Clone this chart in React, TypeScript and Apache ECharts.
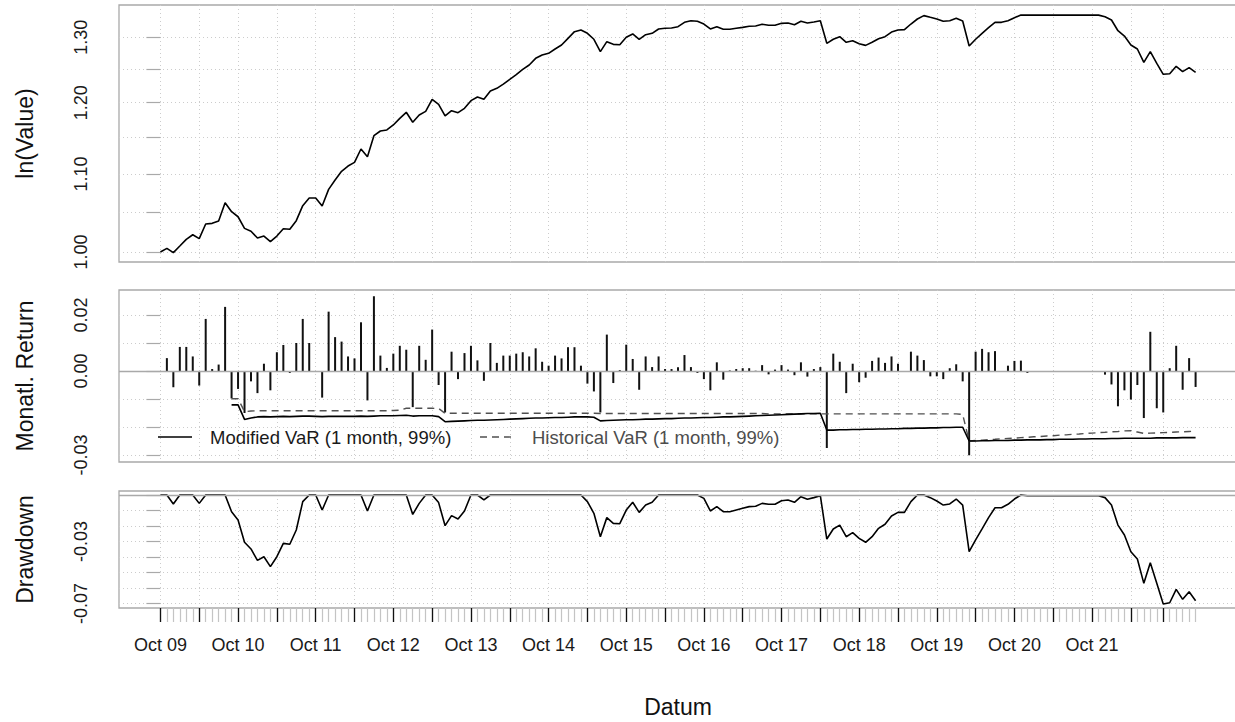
import React, { useEffect, useRef } from "react";
import * as echarts from "echarts";

// ---------- data ----------
const monthLabels = ["Oct 09", "Oct 10", "Oct 11", "Oct 12", "Oct 13", "Oct 14", "Oct 15", "Oct 16", "Oct 17", "Oct 18", "Oct 19", "Oct 20", "Oct 21"];
const labelIdx = [0, 12, 24, 36, 48, 60, 72, 84, 96, 108, 120, 132, 144];
const majorTickIdx = [0, 6, 12, 18, 24, 30, 36, 42, 48, 54, 60, 66, 72, 78, 84, 90, 96, 102, 108, 114, 120, 126, 132, 138, 144, 150, 155];

const valueTicks = [1.0, 1.05, 1.1, 1.15, 1.2, 1.25, 1.3];
const valueLabels = [1.0, 1.1, 1.2, 1.3];
const returnTicks = [-0.03, -0.02, -0.01, 0, 0.01, 0.02];
const returnLabels = [-0.03, 0, 0.02];
const ddTicks = [-0.07, -0.06, -0.05, -0.04, -0.03, -0.02, -0.01, 0];
const ddLabels = [-0.07, -0.03];

const cumValue = [
  1.0, 1.0045, 0.9992, 1.0073, 1.0156, 1.0213, 1.0164, 1.0348, 1.0356, 1.0386,
  1.062, 1.0504, 1.044, 1.0293, 1.0256, 1.0172, 1.0197, 1.0127, 1.0197, 1.0289,
  1.0281, 1.039, 1.0582, 1.0681, 1.0681, 1.0578, 1.0795, 1.0919, 1.1035, 1.1107,
  1.1157, 1.134, 1.1234, 1.1526, 1.1592, 1.1607, 1.1678, 1.1773, 1.186, 1.1716,
  1.1821, 1.1874, 1.2049, 1.1976, 1.1807, 1.1884, 1.1854, 1.1918, 1.203, 1.2084,
  1.2049, 1.2173, 1.2212, 1.2276, 1.2347, 1.2417, 1.2498, 1.2565, 1.2668, 1.2719,
  1.2746, 1.2813, 1.2875, 1.2981, 1.3087, 1.3114, 1.3061, 1.2966, 1.2771, 1.2928,
  1.2886, 1.288, 1.2997, 1.305, 1.2966, 1.3039, 1.3061, 1.313, 1.3141, 1.3146,
  1.3167, 1.3237, 1.3263, 1.3254, 1.321, 1.313, 1.3167, 1.3125, 1.3125, 1.3141,
  1.3156, 1.3173, 1.3177, 1.3205, 1.3189, 1.3189, 1.3221, 1.3226, 1.3199, 1.3254,
  1.3226, 1.3242, 1.3263, 1.2902, 1.2966, 1.3007, 1.2918, 1.2943, 1.2896, 1.287,
  1.2918, 1.2975, 1.3007, 1.3081, 1.3114, 1.312, 1.321, 1.3291, 1.3346, 1.3318,
  1.3291, 1.3254, 1.3263, 1.3302, 1.3259, 1.286, 1.2966, 1.3061, 1.3151, 1.3237,
  1.3237, 1.3263, 1.3312, 1.3356, 1.3354, 1.3354, 1.3354, 1.3354, 1.3354, 1.3354,
  1.3354, 1.3354, 1.3354, 1.3354, 1.3354, 1.3354, 1.3328, 1.3275, 1.3102, 1.3017,
  1.2875, 1.2813, 1.2606, 1.2771, 1.259, 1.2423, 1.2432, 1.2545, 1.2463, 1.2524,
  1.2453,
];

const monthlyReturn = [
  null, 0.0046, -0.0058, 0.0086, 0.0086, 0.0052, -0.0052, 0.0186, 0.0007, 0.0023,
  0.0229, -0.0098, -0.0064, -0.015, -0.0037, -0.0079, 0.0026, -0.0069, 0.0067, 0.0093,
  -0.0007, 0.01, 0.0186, 0.01, -0.0003, -0.0095, 0.0212, 0.0121, 0.0105, 0.0052,
  0.0045, 0.0174, -0.0105, 0.0267, 0.0055, 0.0011, 0.0062, 0.009, 0.0076, -0.0129,
  0.009, 0.004, 0.0148, -0.005, -0.0148, 0.0069, -0.0029, 0.0064, 0.009, 0.0038,
  -0.0035, 0.01, 0.0029, 0.0055, 0.0055, 0.0062, 0.0067, 0.0052, 0.0081, 0.0033,
  0.0019, 0.0055, 0.0045, 0.0085, 0.0085, 0.0019, -0.0045, -0.0073, -0.0148, 0.013,
  -0.0043, 0.0003, 0.0094, 0.0043, -0.0067, 0.0052, 0.0014, 0.0052, 0.0007, 0.0007,
  0.0013, 0.0057, 0.0014, -0.0007, -0.0029, -0.0069, 0.0031, -0.0031, 0.0002, 0.0007,
  0.001, 0.001, 0.0001, 0.0021, -0.0012, 0.0005, 0.0021, 0.0005, -0.0015, 0.0031,
  -0.002, 0.0007, 0.0014, -0.0275, 0.0062, 0.0033, -0.0079, 0.0026, -0.004, -0.0024,
  0.0036, 0.0048, 0.0029, 0.0052, 0.0026, 0.0, 0.0069, 0.0055, 0.0039, -0.0019,
  -0.0019, -0.0029, 0.001, 0.0024, -0.0037, -0.0301, 0.0069, 0.0079, 0.0067, 0.0071,
  0.0, 0.0019, 0.0036, 0.0037, -0.0007, 0, 0, 0, 0, 0,
  0, 0, 0, 0, 0, 0, -0.0013, -0.0048, -0.0126, -0.0069,
  -0.0102, -0.005, -0.0168, 0.014, -0.0133, -0.0148, 0.001, 0.009, -0.0067, 0.0046,
  -0.0057,
];

const drawdown = [
  0, 0, -0.0058, 0, 0, 0, -0.0054, 0, 0, 0,
  0, -0.0108, -0.0161, -0.0305, -0.0348, -0.0422, -0.0398, -0.0462, -0.0398, -0.0312,
  -0.0318, -0.0226, -0.0043, 0, 0, -0.0097, 0, 0, 0, 0,
  0, 0, -0.0103, 0, 0, 0, 0, 0, 0, -0.0125,
  -0.0054, 0, 0, -0.0049, -0.0198, -0.0133, -0.0155, -0.0103, 0, 0,
  -0.0032, 0, 0, 0, 0, 0, 0, 0, 0, 0,
  0, 0, 0, 0, 0, 0, -0.0043, -0.0118, -0.0269, -0.0146,
  -0.0183, -0.0185, -0.0097, -0.0047, -0.0112, -0.0065, -0.0047, 0, 0, 0,
  0, 0, 0, 0, -0.0022, -0.0103, -0.0075, -0.0108, -0.0108, -0.0097,
  -0.0086, -0.0075, -0.0073, -0.0054, -0.006, -0.006, -0.0037, -0.0032, -0.0047, -0.0011,
  -0.0028, -0.0017, -0.0004, -0.0284, -0.0219, -0.0194, -0.0269, -0.0243, -0.028, -0.0305,
  -0.0269, -0.0215, -0.0189, -0.0135, -0.0112, -0.0112, -0.0043, 0, 0, -0.0017,
  -0.0039, -0.0065, -0.0058, -0.0026, -0.0065, -0.0366, -0.029, -0.0219, -0.0146, -0.0082,
  -0.0082, -0.006, -0.0026, 0, -0.0005, -0.0005, -0.0005, -0.0005, -0.0005, -0.0005,
  -0.0005, -0.0005, -0.0005, -0.0005, -0.0005, -0.0005, -0.0017, -0.0065, -0.0194, -0.0258,
  -0.0366, -0.0413, -0.057, -0.0437, -0.057, -0.0703, -0.0695, -0.0609, -0.0673, -0.0624,
  -0.0682,
];

const modifiedVaR = [
  null, null, null, null, null, null, null, null, null, null,
  null, -0.0121, -0.0121, -0.0173, -0.0168, -0.0164, -0.0163, -0.0164, -0.0163, -0.0162,
  -0.0163, -0.0162, -0.0161, -0.0161, -0.0162, -0.0163, -0.0162, -0.0162, -0.0162, -0.0162,
  -0.0162, -0.0161, -0.0162, -0.0161, -0.016, -0.016, -0.016, -0.0159, -0.0158, -0.0161,
  -0.016, -0.016, -0.016, -0.0163, -0.0181, -0.018, -0.0179, -0.0178, -0.0177, -0.0176,
  -0.0176, -0.0175, -0.0174, -0.0173, -0.0172, -0.0171, -0.017, -0.0169, -0.0168, -0.0168,
  -0.0167, -0.0166, -0.0166, -0.0165, -0.0164, -0.0164, -0.0164, -0.0165, -0.0178, -0.0177,
  -0.0176, -0.0175, -0.0174, -0.0174, -0.0173, -0.0172, -0.0172, -0.0171, -0.017, -0.017,
  -0.0169, -0.0168, -0.0168, -0.0167, -0.0166, -0.0166, -0.0165, -0.0164, -0.0164, -0.0163,
  -0.0162, -0.0161, -0.016, -0.0159, -0.0158, -0.0157, -0.0156, -0.0155, -0.0154, -0.0153,
  -0.0152, -0.0152, -0.0151, -0.0211, -0.0211, -0.021, -0.021, -0.0209, -0.0209, -0.0208,
  -0.0208, -0.0207, -0.0207, -0.0206, -0.0206, -0.0205, -0.0205, -0.0204, -0.0204, -0.0203,
  -0.0203, -0.0202, -0.0202, -0.0201, -0.0201, -0.025, -0.025, -0.0249, -0.0249, -0.0248,
  -0.0248, -0.0248, -0.0247, -0.0247, -0.0246, -0.0246, -0.0246, -0.0245, -0.0245, -0.0244,
  -0.0244, -0.0244, -0.0243, -0.0243, -0.0242, -0.0242, -0.0242, -0.0241, -0.0241, -0.024,
  -0.024, -0.024, -0.024, -0.024, -0.0239, -0.0239, -0.0239, -0.0239, -0.0238, -0.0238,
  -0.0238,
];

const historicalVaR = [
  null, null, null, null, null, null, null, null, null, null,
  null, -0.0099, -0.0099, -0.0145, -0.0143, -0.0142, -0.0142, -0.0142, -0.0142, -0.0142,
  -0.0142, -0.0142, -0.0142, -0.0142, -0.0142, -0.0142, -0.0142, -0.0142, -0.0142, -0.0142,
  -0.0142, -0.0142, -0.0142, -0.0142, -0.0142, -0.0142, -0.0141, -0.014, -0.0133, -0.0133,
  -0.0133, -0.0133, -0.0133, -0.0134, -0.0151, -0.0151, -0.0151, -0.0151, -0.0151, -0.0151,
  -0.0151, -0.0151, -0.0151, -0.0151, -0.0151, -0.0151, -0.0151, -0.0151, -0.0151, -0.0151,
  -0.0151, -0.0151, -0.0151, -0.0151, -0.0151, -0.0151, -0.0151, -0.0151, -0.0152, -0.0152,
  -0.0152, -0.0152, -0.0152, -0.0152, -0.0152, -0.0152, -0.0152, -0.0152, -0.0152, -0.0152,
  -0.0152, -0.0152, -0.0152, -0.0152, -0.0152, -0.0152, -0.0152, -0.0152, -0.0152, -0.0152,
  -0.0152, -0.0152, -0.0152, -0.0152, -0.0153, -0.0153, -0.0153, -0.0153, -0.0153, -0.0153,
  -0.0153, -0.0153, -0.0153, -0.0153, -0.0153, -0.0153, -0.0153, -0.0153, -0.0153, -0.0153,
  -0.0153, -0.0153, -0.0153, -0.0153, -0.0153, -0.0153, -0.0153, -0.0153, -0.0153, -0.0153,
  -0.0153, -0.0153, -0.0153, -0.0153, -0.0155, -0.025, -0.0248, -0.0247, -0.0245, -0.0244,
  -0.0242, -0.0241, -0.024, -0.0238, -0.0237, -0.0235, -0.0234, -0.0232, -0.0231, -0.0229,
  -0.0228, -0.0226, -0.0225, -0.0223, -0.0222, -0.022, -0.0219, -0.0217, -0.0216, -0.0214,
  -0.0213, -0.0218, -0.0223, -0.0222, -0.0221, -0.022, -0.0219, -0.0218, -0.0217, -0.0216,
  -0.0215,
];

// ---------- styling ----------
const FONT = "'Liberation Sans', Arial, Helvetica, sans-serif";
const BOX = "#a9a9a9";
const GRIDLINE = { color: "#cccccc", type: [1, 3] as number[], width: 1 };
const X_MIN = -6.4;
const X_MAX = 166.4;
const monthIdx = cumValue.map((_, i) => i);

function yAxisBase(grid: number, min: number, max: number, ticks: number[], labels: number[], fmt: (v: number) => string, name: string) {
  return {
    type: "value",
    gridIndex: grid,
    min,
    max,
    axisLine: { show: false },
    axisTick: { show: true, customValues: ticks, length: 14, lineStyle: { color: BOX, width: 1.2 } },
    axisLabel: { show: true, customValues: labels, formatter: fmt, rotate: 90, margin: 29, fontSize: 18, color: "#1a1a1a", fontFamily: FONT },
    splitLine: { show: true, lineStyle: GRIDLINE },
    name,
    nameLocation: "middle",
    nameRotate: 90,
    nameGap: 83,
    nameTextStyle: { fontSize: 23, color: "#111", fontFamily: FONT },
  };
}

function xAxisGrid(grid: number) {
  return {
    type: "value",
    gridIndex: grid,
    position: "bottom",
    min: X_MIN,
    max: X_MAX,
    axisLine: { show: false },
    axisTick: { show: false, customValues: majorTickIdx },
    axisLabel: { show: false },
    splitLine: { show: true, lineStyle: GRIDLINE },
  };
}

const zeroMark = {
  silent: true,
  symbol: "none",
  label: { show: false },
  lineStyle: { color: BOX, type: "solid", width: 1.3 },
  data: [{ yAxis: 0 }],
};

const option = {
  animation: false,
  backgroundColor: "#ffffff",
  textStyle: { fontFamily: FONT },
  grid: [
    { left: 119, top: 5, width: 1118, height: 257, show: true, borderColor: BOX, borderWidth: 1.3, outerBoundsMode: "none" },
    { left: 119, top: 290, width: 1118, height: 172, show: true, borderColor: BOX, borderWidth: 1.3, outerBoundsMode: "none" },
    { left: 119, top: 491, width: 1118, height: 117, show: true, borderColor: BOX, borderWidth: 1.3, outerBoundsMode: "none" },
  ],
  xAxis: [
    xAxisGrid(0),
    xAxisGrid(1),
    xAxisGrid(2),
    {
      type: "value",
      gridIndex: 2,
      position: "bottom",
      min: X_MIN,
      max: X_MAX,
      axisLine: { show: false },
      axisTick: { show: true, customValues: monthIdx, length: 14, lineStyle: { color: "#c4c4c4", width: 1.2 } },
      axisLabel: { show: false },
      splitLine: { show: false },
    },
    {
      type: "value",
      gridIndex: 2,
      position: "bottom",
      min: X_MIN,
      max: X_MAX,
      axisLine: { show: false },
      axisTick: { show: true, customValues: majorTickIdx, length: 14, lineStyle: { color: "#111", width: 1.3 } },
      axisLabel: {
        show: true,
        customValues: labelIdx,
        formatter: (v: number) => monthLabels[labelIdx.indexOf(Math.round(v))] ?? "",
        fontSize: 18,
        margin: 28,
        color: "#1a1a1a",
        fontFamily: FONT,
      },
      splitLine: { show: false },
      name: "Datum",
      nameLocation: "middle",
      nameGap: 87,
      nameTextStyle: { fontSize: 23, color: "#111", fontFamily: FONT },
    },
  ],
  yAxis: [
    yAxisBase(0, -0.0122, 0.3016, valueTicks.map(Math.log), valueLabels.map(Math.log), (v: number) => Math.exp(v).toFixed(2), "ln(Value)"),
    yAxisBase(1, -0.0325, 0.02893, returnTicks, returnLabels, (v: number) => v.toFixed(2), "Monatl. Return"),
    yAxisBase(2, -0.0729, 0.00258, ddTicks, ddLabels, (v: number) => v.toFixed(2), "Drawdown"),
  ],
  series: [
    {
      name: "ln(Value)",
      type: "line",
      xAxisIndex: 0,
      yAxisIndex: 0,
      data: cumValue.map((v, i) => [i, Math.log(v)]),
      symbol: "none",
      lineStyle: { color: "#000", width: 1.6 },
    },
    {
      name: "Monatl. Return",
      type: "bar",
      xAxisIndex: 1,
      yAxisIndex: 1,
      data: monthlyReturn.map((v, i) => [i, v]),
      barWidth: 2,
      itemStyle: { color: "#111" },
      markLine: zeroMark,
      z: 3,
    },
    {
      name: "Historical VaR (1 month, 99%)",
      type: "line",
      xAxisIndex: 1,
      yAxisIndex: 1,
      data: historicalVaR.map((v, i) => [i, v]),
      symbol: "none",
      connectNulls: false,
      lineStyle: { color: "#505050", width: 1.4, type: [7, 5] },
      z: 4,
    },
    {
      name: "Modified VaR (1 month, 99%)",
      type: "line",
      xAxisIndex: 1,
      yAxisIndex: 1,
      data: modifiedVaR.map((v, i) => [i, v]),
      symbol: "none",
      connectNulls: false,
      lineStyle: { color: "#000", width: 1.6 },
      z: 5,
    },
    {
      name: "Drawdown",
      type: "line",
      xAxisIndex: 2,
      yAxisIndex: 2,
      data: drawdown.map((v, i) => [i, v]),
      symbol: "none",
      lineStyle: { color: "#000", width: 1.6 },
      markLine: zeroMark,
    },
  ],
  graphic: [
    { type: "line", shape: { x1: 158, y1: 437, x2: 192, y2: 437 }, style: { stroke: "#000", lineWidth: 1.6 }, z: 10 },
    { type: "text", x: 210, y: 437, style: { text: "Modified VaR (1 month, 99%)", fill: "#1a1a1a", font: `18.5px ${FONT}`, verticalAlign: "middle", align: "left" }, z: 10 },
    { type: "line", shape: { x1: 480, y1: 437, x2: 515, y2: 437 }, style: { stroke: "#505050", lineWidth: 1.4, lineDash: [7, 5] }, z: 10 },
    { type: "text", x: 532, y: 437, style: { text: "Historical VaR (1 month, 99%)", fill: "#4d4d4d", font: `18.5px ${FONT}`, verticalAlign: "middle", align: "left" }, z: 10 },
  ],
};

export default function App() {
  const ref = useRef<HTMLDivElement>(null);
  useEffect(() => {
    if (!ref.current) return;
    const chart = echarts.init(ref.current, null, { renderer: "svg" });
    chart.setOption(option as any);
    return () => chart.dispose();
  }, []);
  return (
    <div
      ref={ref}
      style={{ position: "absolute", left: 0, top: 0, width: 1235, height: 722, background: "#fff" }}
    />
  );
}
